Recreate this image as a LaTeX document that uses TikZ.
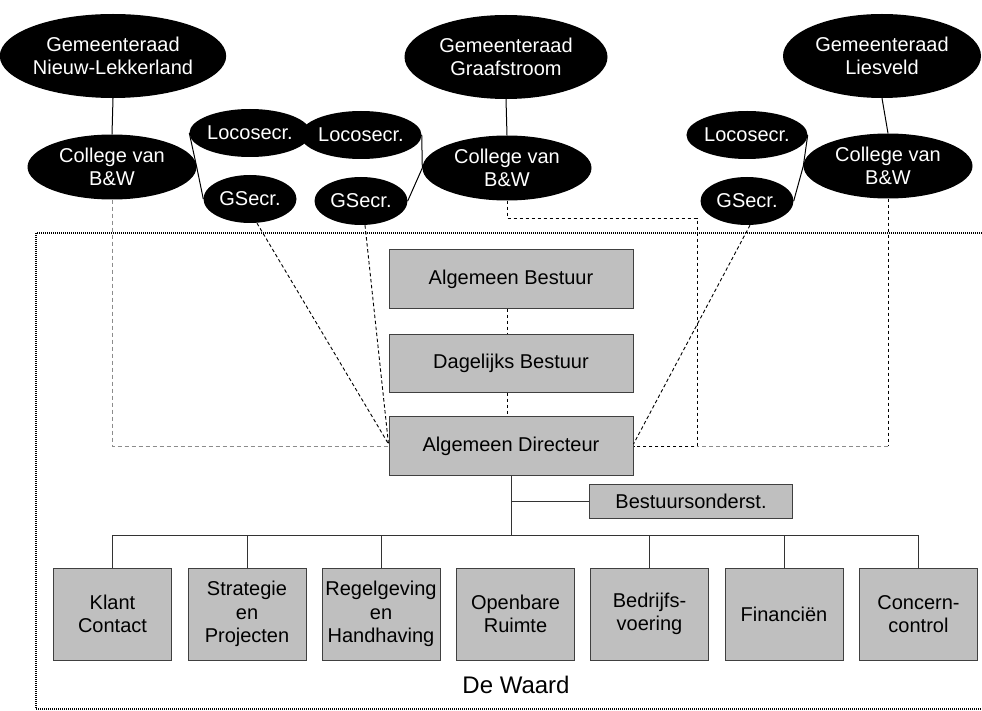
\documentclass[tikz,border=0pt]{standalone}
\usepackage{fontspec}
\setmainfont{Liberation Sans}
\usetikzlibrary{shapes.geometric,calc}
\begin{document}
\begin{tikzpicture}[x=1pt,y=-1pt,
  every node/.style={font=\fontsize{20}{23.3}\selectfont, align=center},
  oval/.style={ellipse, fill=black, text=white, inner sep=0pt},
  big/.style={oval, minimum width=201pt, minimum height=84pt},
  coll/.style={oval, minimum width=169pt, minimum height=65pt},
  small/.style={oval, minimum width=93pt, minimum height=48pt},
  box/.style={rectangle, fill=black!25, draw=black!75, line width=1pt, inner sep=0pt},
  unit/.style={box, minimum width=118pt, minimum height=92pt},
  mgmt/.style={box, minimum width=244pt, minimum height=58pt},
  solid line/.style={draw=black, line width=1pt},
  tree/.style={draw=black!80, line width=1pt},
  blackdash/.style={draw=black, line width=0.9pt, dash pattern=on 3.5pt off 2.5pt},
  graydash/.style={draw=black!45, line width=1pt, dash pattern=on 4pt off 3pt},
  border/.style={draw=black, line width=1.3pt, dash pattern=on 1pt off 1pt}
]
\useasboundingbox (0,0) rectangle (982,711);

% De Waard frame
\draw[border] (36,233) rectangle (995,709);
\node[font=\fontsize{24}{28}\selectfont] (dw) at (516,685) {De Waard};

% municipalities
\node[big] (gNL) at (113,56) {Gemeenteraad\\Nieuw-Lekkerland};
\node[coll] (cNL) at (112,167) {College van\\B\&W};
\node[small] (lNL) at (250,133) {Locosecr.};
\node[small] (sNL) at (250,199) {GSecr.};

\node[big, minimum width=203pt] (gG) at (506,57) {Gemeenteraad\\Graafstroom};
\node[coll] (cG) at (507,168) {College van\\B\&W};
\node[small] (lG) at (361,135) {Locosecr.};
\node[small] (sG) at (361,201) {GSecr.};

\node[big, minimum width=198pt] (gL) at (882,56) {Gemeenteraad\\Liesveld};
\node[coll] (cL) at (888,166) {College van\\B\&W};
\node[small] (lL) at (747,135) {Locosecr.};
\node[small] (sL) at (747,201) {GSecr.};

% management boxes
\node[mgmt] (ab) at (511,279) {Algemeen Bestuur};
\node[mgmt] (db) at (511,363) {Dagelijks Bestuur};
\node[mgmt, minimum height=59pt] (dir) at (511,446) {Algemeen Directeur};
\node[box, minimum width=203pt, minimum height=34pt] (bo) at (691,501) {Bestuursonderst.};

% units
\node[unit] (u1) at (112.5,614) {Klant\\Contact};
\node[unit] (u2) at (247,614) {Strategie\\en\\Projecten};
\node[unit] (u3) at (381,614) {Regelgeving\\en\\Handhaving};
\node[unit] (u4) at (515.5,614) {Openbare\\Ruimte};
\node[unit] (u5) at (649.5,614) {Bedrijfs-\\voering};
\node[unit] (u6) at (784,614) {Financiën};
\node[unit] (u7) at (918.5,614) {Concern-\\control};

% solid municipal links
\draw[solid line] (gNL.south) -- (cNL.north);
\draw[solid line] (gG.south) -- (cG.north);
\draw[solid line] (gL.south) -- (cL.north);
\draw[solid line] (cNL.east) -- (lNL.west);
\draw[solid line] (cNL.east) -- (sNL.west);
\draw[solid line] (lG.east) -- (cG.west);
\draw[solid line] (sG.east) -- (cG.west);
\draw[solid line] (lL.east) -- (cL.west);
\draw[solid line] (sL.east) -- (cL.west);

% dashed links
\coordinate (m1) at (697,218);
\coordinate (rc) at (cL.south |- dir.east);
\draw[graydash] (cNL.south) |- (dir.west);
\draw[blackdash] (cG.south) |- (m1) |- (dir.east);
\draw[blackdash] (cL.south) -- (rc);
\draw[graydash] (rc) -- (m1 |- dir.east);
\draw[blackdash] ($(sNL.south)+(7,0)$) -- ($(dir.west)+(0,-2)$);
\draw[blackdash] ($(sG.south)+(4,0)$) -- ($(dir.west)+(0,-2)$);
\draw[blackdash] ($(sL.south)+(3,0)$) -- ($(dir.east)+(0,-2)$);
\draw[blackdash] ($(ab.south)+(-4,0)$) -- ($(db.north)+(-4,0)$);
\draw[blackdash] ($(db.south)+(-4,0)$) -- ($(dir.north)+(-4,0)$);

% organisation tree
\coordinate (bus) at (511,535);
\draw[tree] (dir.south) -- (bus);
\draw[tree] (dir.south |- bo.west) -- (bo.west);
\draw[tree] (u1.north |- bus) -- (u7.north |- bus);
\foreach \u in {u1,u2,u3,u5,u6,u7}
  \draw[tree] (\u.north) -- (\u.north |- bus);
\end{tikzpicture}
\end{document}
